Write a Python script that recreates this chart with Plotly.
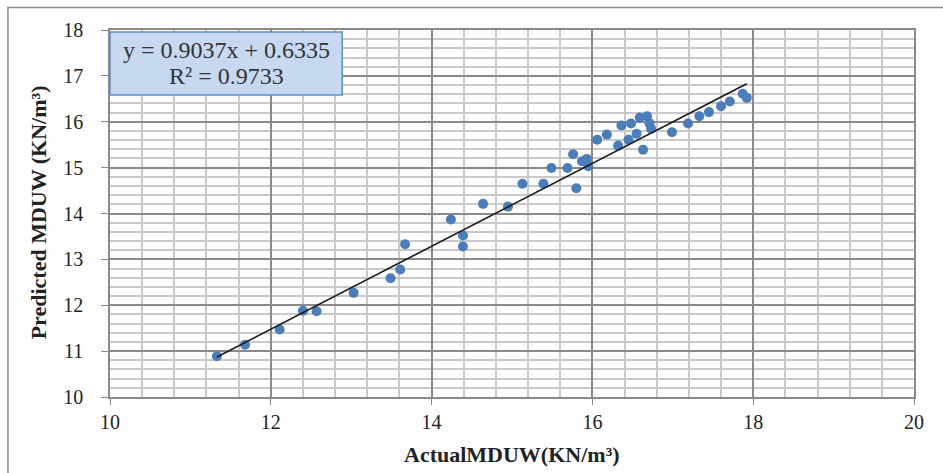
import numpy as np
import plotly.graph_objects as go

# Actual vs. predicted maximum dry unit weight (KN/m³)
actual = [11.33, 11.68, 12.11, 12.40, 12.57, 13.03, 13.49, 13.61, 13.67,
          14.24, 14.39, 14.39, 14.64, 14.95, 15.13, 15.39, 15.49, 15.69,
          15.76, 15.80, 15.87, 15.93, 15.95, 16.06, 16.18, 16.32, 16.36,
          16.45, 16.48, 16.55, 16.59, 16.68, 16.71, 16.73, 16.63, 16.99,
          17.19, 17.33, 17.45, 17.60, 17.71, 17.87, 17.92]
predicted = [10.89, 11.14, 11.47, 11.88, 11.87, 12.27, 12.59, 12.78, 13.33,
             13.87, 13.52, 13.28, 14.21, 14.15, 14.65, 14.65, 14.99, 14.99,
             15.29, 14.55, 15.14, 15.19, 15.03, 15.61, 15.72, 15.48, 15.92,
             15.61, 15.96, 15.74, 16.09, 16.12, 15.97, 15.85, 15.39, 15.77,
             15.96, 16.12, 16.21, 16.34, 16.44, 16.61, 16.52]

slope = 0.9037
intercept = 0.6335
r_squared = 0.9733

x_ticks = [10, 12, 14, 16, 18, 20]
y_ticks = [10, 11, 12, 13, 14, 15, 16, 17, 18]

serif = "Liberation Serif"
axis_grey = "#8a8a8a"
minor_grey = "#c9c9c9"

fig = go.Figure()

fig.add_trace(go.Scatter(
    x=actual, y=predicted, mode="markers",
    marker=dict(size=10, color="#4a7ebb"),
    showlegend=False, hoverinfo="x+y",
))

# Linear trendline over the data range
x_fit = np.array([min(actual), max(actual)])
fig.add_trace(go.Scatter(
    x=x_fit, y=slope * x_fit + intercept, mode="lines",
    line=dict(color="#1a1a1a", width=1.6),
    showlegend=False, hoverinfo="skip",
))

fig.update_xaxes(
    range=[10, 20], tickvals=x_ticks, ticktext=[str(v) for v in x_ticks],
    showgrid=True, gridcolor=axis_grey, gridwidth=1.5,
    minor=dict(dtick=0.4, showgrid=True, gridcolor=minor_grey, gridwidth=1.5),
    showline=True, linecolor=axis_grey, linewidth=1.5, mirror=True,
    ticks="outside", ticklen=6, tickcolor=axis_grey, tickwidth=1.2,
    tickfont=dict(family=serif, size=20, color="#222222"),
    zeroline=False,
)
fig.update_yaxes(
    range=[10, 18], tickvals=y_ticks, ticktext=[str(v) for v in y_ticks],
    showgrid=True, gridcolor=axis_grey, gridwidth=1.5,
    minor=dict(dtick=0.2, showgrid=True, gridcolor=minor_grey, gridwidth=1.5),
    showline=True, linecolor=axis_grey, linewidth=1.5, mirror=True,
    ticks="outside", ticklen=7, tickcolor=axis_grey, tickwidth=1.2,
    ticklabelstandoff=14,
    tickfont=dict(family=serif, size=20, color="#222222"),
    zeroline=False,
)

annotations = [
    # axis titles
    dict(text="<b>ActualMDUW(KN/m³)</b>", xref="paper", yref="paper",
         x=0.500, y=-0.158, xanchor="center", yanchor="middle",
         showarrow=False, font=dict(family=serif, size=22, color="#222222")),
    dict(text="<b>Predicted MDUW (KN/m³)</b>", xref="paper", yref="paper",
         x=-0.0896, y=0.503, xanchor="center", yanchor="middle", textangle=-90,
         showarrow=False, font=dict(family=serif, size=22, color="#222222")),
    # regression equation
    dict(text=f"y = {slope:.4f}x + {intercept:.4f}", xref="paper", yref="paper",
         x=0.1443, y=0.9455, xanchor="center", yanchor="middle",
         showarrow=False, font=dict(family=serif, size=24, color="#333333")),
    dict(text=f"R² = {r_squared:.4f}", xref="paper", yref="paper",
         x=0.1443, y=0.874, xanchor="center", yanchor="middle",
         showarrow=False, font=dict(family=serif, size=24, color="#333333")),
]

shapes = [
    # equation box
    dict(type="rect", xref="paper", yref="paper",
         x0=0.0, x1=0.2888, y0=0.8226, y1=0.9946,
         fillcolor="#c6d9f1", line=dict(color="#5b8fcf", width=1.5), layer="above"),
    # chart frame
    dict(type="rect", xref="paper", yref="paper",
         x0=-0.1269, x1=1.04, y0=-0.215, y1=1.0613,
         line=dict(color="#8c8c8c", width=1.5), fillcolor="rgba(0,0,0,0)"),
]

fig.update_layout(
    width=943, height=473,
    margin=dict(l=110, r=29, t=30, b=76),
    paper_bgcolor="white", plot_bgcolor="white",
    font=dict(family=serif),
    annotations=annotations, shapes=shapes,
)

fig.write_html("out.html")
